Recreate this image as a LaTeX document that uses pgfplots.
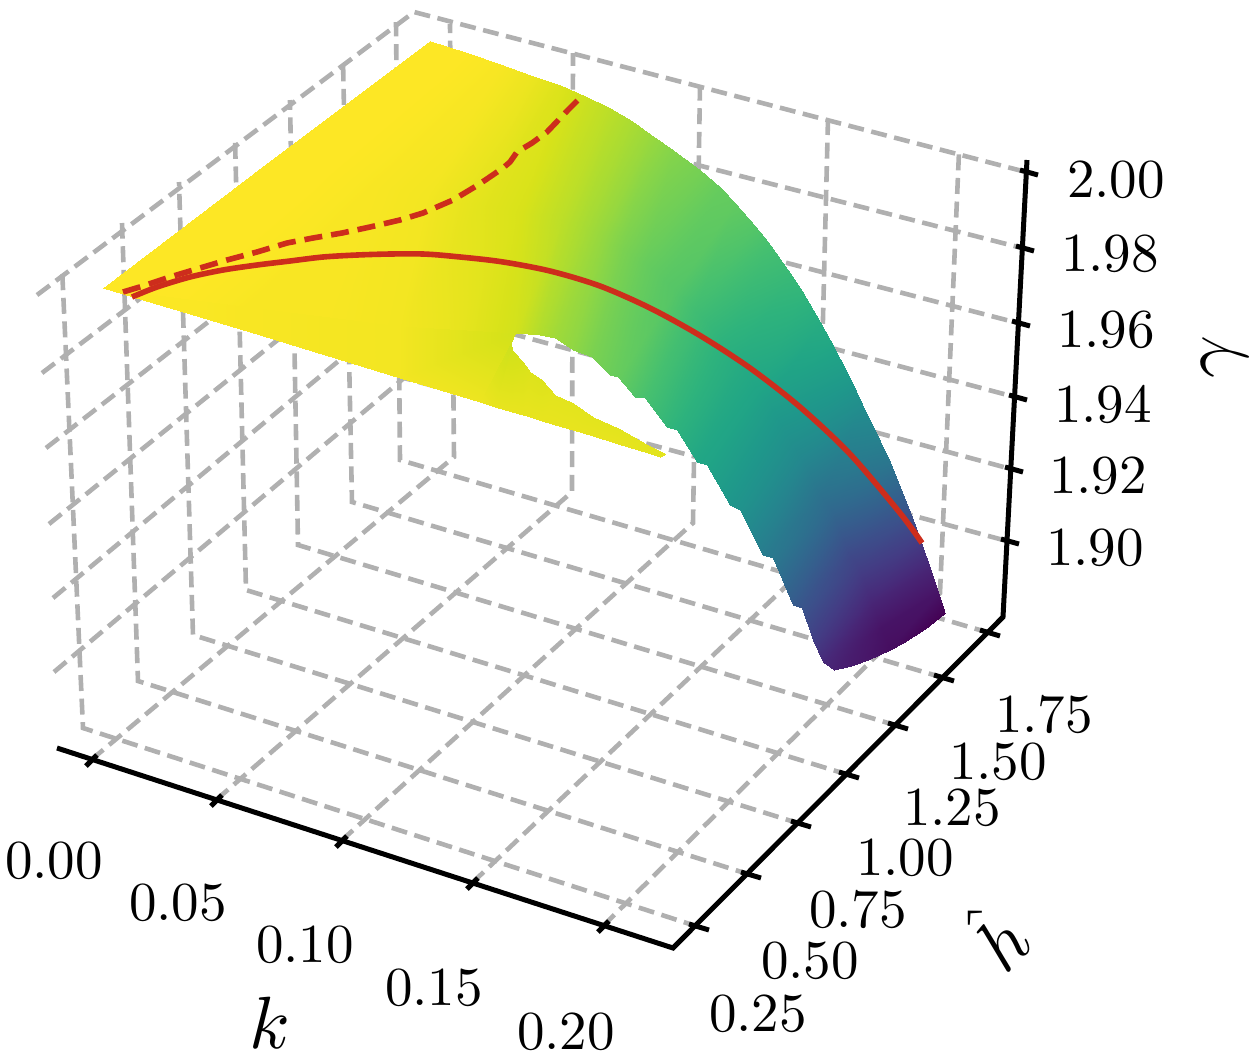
\documentclass[border=0pt]{standalone}
\usepackage{pgfplots}
\usepackage{pgfplotstable}
\pgfplotsset{compat=1.18}

% picture-plane positions of the projected surface (perspective view), g = gamma
\pgfplotstableread{
x y g
103 288 2.000
266 164 2.000
430 41 2.000
176 297.5 2.000
320 175 2.000
465 52 2.000
250 307 1.999
375 186 1.999
500 64 1.999
325 316.5 1.999
428 196 1.998
530 75 1.997
400 326 1.998
480 205 1.995
560 85 1.994
457 330 1.996
521 213 1.993
585 96 1.991
515 333 1.992
562 221 1.988
610 108 1.988
540 335 1.986
586 228 1.984
632 121 1.985
555 338 1.983
602 236 1.981
650 134 1.982
573 350 1.980
623 250 1.976
673 150 1.978
592 357 1.976
646 263 1.972
700 170 1.975
610 375 1.973
665 281 1.969
720 187 1.972
618 377 1.972
676 290 1.968
735 203 1.971
635 397 1.967
695 311 1.963
755 226 1.968
645 398 1.965
706 320 1.961
768 242 1.965
667 427 1.959
728 350 1.956
790 273 1.961
677 430 1.957
740 360 1.954
802 291 1.959
697 462 1.951
758 392 1.950
820 322 1.954
707 465 1.950
768 402 1.947
830 340 1.952
730 505 1.943
790 440 1.940
850 378 1.945
740 510 1.941
801 457 1.936
862 404 1.939
763 555 1.930
822 498 1.924
880 441 1.932
773 558 1.928
832 511 1.920
890 462 1.927
793 605 1.914
850 556 1.906
908 507 1.912
802 608 1.911
858 566 1.903
915 525 1.906
813 640 1.902
872 604 1.892
930 568 1.892
823 662 1.894
881 627 1.886
938 592 1.886
834 670 1.891
890 649 1.884
945 613 1.880
}\bandtable

% yellow part below the hole
\pgfplotstableread{
x y g
103 288 2.000
103 288 2.000
250 307 1.999
250 332 1.999
400 326 1.998
400 378 1.998
515 333 1.992
480 402 1.997
511 343 1.991
495 407 1.996
512 350 1.992
512 412 1.996
523 362 1.993
523 415 1.996
530 372 1.994
530 417 1.996
542 380 1.994
542 421 1.996
555 395 1.995
555 425 1.996
573 403 1.995
573 430 1.996
593 417 1.995
593 436 1.996
618 428 1.995
618 444 1.996
648 445 1.995
648 453 1.995
666 454 1.995
660 457 1.995
}\tailtable

% thin rim along the rounded lower end
\pgfplotstableread{
x y g
945 613 1.880
945 613 1.880
925 626 1.881
925 629 1.881
903 640.5 1.883
903 643 1.883
890 649 1.884
890 650 1.884
868 657.2 1.887
868 660 1.887
851 663.6 1.889
851 665.6 1.889
834 670 1.891
834 670 1.891
}\rimtable

\tikzset{
	lbl/.style={scale=2.75, inner sep=0pt},
	ttl/.style={scale=3.7, inner sep=0pt},
}

\begin{document}
\begin{tikzpicture}
\useasboundingbox (0,0) rectangle (629.5pt,530.5pt);
\definecolor{gridgray}{RGB}{176,176,176}
\definecolor{curvered}{RGB}{205,45,28}
\begin{axis}[
	at={(0,0)}, anchor=south west,
	scale only axis,
	width=629.5pt, height=530.5pt,
	xmin=0, xmax=1259, ymin=0, ymax=1061,
	y dir=reverse,
	view={0}{90},
	hide axis,
	clip=false,
	colormap/viridis,
	point meta min=1.88, point meta max=2,
	gl/.style={no marks, color=gridgray, line width=2.3pt, dash pattern=on 8pt off 3.8pt},
	ax/.style={no marks, color=black, line width=2.5pt, line join=miter},
	tk/.style={no marks, color=black, line width=2.5pt},
]
% k grid lines: floor, then up the back wall
\addplot3[gl] coordinates {(91,760,0)(454,457,0)(450,24,0)};
\addplot3[gl] coordinates {(216,800,0)(572,492,0)(573,53,0)};
\addplot3[gl] coordinates {(341,841,0)(693,523,0)(700,86,0)};
\addplot3[gl] coordinates {(472,883,0)(817,557,0)(828,119,0)};
\addplot3[gl] coordinates {(603,926,0)(940,593,0)(959,152,0)};
% h grid lines: floor, then up the left wall
\addplot3[gl] coordinates {(699,927,0)(83,728,0)(62,267,0)};
\addplot3[gl] coordinates {(751,875,0)(138,681,0)(122,223,0)};
\addplot3[gl] coordinates {(801,824,0)(193,635,0)(179,182,0)};
\addplot3[gl] coordinates {(849,775,0)(246,590,0)(235,138,0)};
\addplot3[gl] coordinates {(898,726,0)(298,545,0)(290,100,0)};
\addplot3[gl] coordinates {(944,678,0)(352,502,0)(343,60,0)};
\addplot3[gl] coordinates {(990,633,0)(400,460,0)(396,22,0)};
% gamma grid lines
\addplot3[gl] coordinates {(37,295,0)(414,12,0)(1026,172,0)};
\addplot3[gl] coordinates {(42,373,0)(412,92,0)(1022,248,0)};
\addplot3[gl] coordinates {(46,448,0)(410,165,0)(1018,323,0)};
\addplot3[gl] coordinates {(49,524,0)(408,235,0)(1015,397,0)};
\addplot3[gl] coordinates {(53,598,0)(406,305,0)(1011,469,0)};
\addplot3[gl] coordinates {(54,672,0)(404,378,0)(1007,541,0)};

% surface, in pieces round the hole
\addplot3[surf, shader=interp, mesh/cols=3, point meta=explicit]
	table[x=x, y=y, z expr=0, meta=g] {\bandtable};
\addplot3[surf, shader=interp, mesh/cols=2, point meta=explicit]
	table[x=x, y=y, z expr=0, meta=g] {\tailtable};
\addplot3[surf, shader=interp, mesh/cols=2, point meta=explicit]
	table[x=x, y=y, z expr=0, meta=g] {\rimtable};

% curves on the surface
\addplot3[no marks, smooth, color=curvered, line width=2.8pt] coordinates {
	(132,297,0)(157,287,0)(190,277,0)(223,270,0)(257,265,0)(290,261,0)(323,257,0)
	(357,255,0)(390,254,0)(423,254,0)(450,256,0)(500,261.5,0)(550,271,0)(600,286,0)
	(650,308,0)(700,335.5,0)(750,368,0)(800,407,0)(850,454,0)(900,513,0)(922,543,0)};
\addplot3[no marks, color=curvered, line width=2.8pt, dash pattern=on 9pt off 4.5pt] coordinates {
	(123,292,0)(143,286,0)(170,277,0)(200,268,0)(227,260,0)(257,252,0)(287,243,0)
	(313,238,0)(342,233,0)(370,227,0)(400,220,0)(423,213,0)(453,200,0)(478,185,0)
	(503,168,0)(510,162,0)(517,152,0)(532,143,0)(547,132,0)(568,110,0)(583,95,0)};

% axis lines and ticks
\addplot3[ax] coordinates {(57,748,0)(673,948,0)(1003,617,0)(1027,160,0)};
\addplot3[tk] coordinates {(86,766,0)(97,755,0)};
\addplot3[tk] coordinates {(211,806,0)(222,795,0)};
\addplot3[tk] coordinates {(336,847,0)(347,836,0)};
\addplot3[tk] coordinates {(467,889,0)(478,878,0)};
\addplot3[tk] coordinates {(598,932,0)(609,921,0)};
\addplot3[tk] coordinates {(689,924,0)(709,930,0)};
\addplot3[tk] coordinates {(741,872,0)(761,878,0)};
\addplot3[tk] coordinates {(791,821,0)(811,827,0)};
\addplot3[tk] coordinates {(839,772,0)(859,778,0)};
\addplot3[tk] coordinates {(888,723,0)(908,729,0)};
\addplot3[tk] coordinates {(934,675,0)(954,681,0)};
\addplot3[tk] coordinates {(980,630,0)(1000,636,0)};
\addplot3[tk] coordinates {(1020,170,0)(1038,175,0)};
\addplot3[tk] coordinates {(1016,246,0)(1034,251,0)};
\addplot3[tk] coordinates {(1012,321,0)(1030,326,0)};
\addplot3[tk] coordinates {(1009,395,0)(1027,400,0)};
\addplot3[tk] coordinates {(1005,467,0)(1023,472,0)};
\addplot3[tk] coordinates {(1001,539,0)(1019,544,0)};

% tick labels
\node[lbl] at (axis cs:54,861,0) {0.00};
\node[lbl] at (axis cs:178,903,0) {0.05};
\node[lbl] at (axis cs:305,945,0) {0.10};
\node[lbl] at (axis cs:434,988,0) {0.15};
\node[lbl] at (axis cs:566,1032,0) {0.20};
\node[lbl] at (axis cs:758,1014,0) {0.25};
\node[lbl] at (axis cs:810,961,0) {0.50};
\node[lbl] at (axis cs:858,910,0) {0.75};
\node[lbl] at (axis cs:905,858,0) {1.00};
\node[lbl] at (axis cs:952,808,0) {1.25};
\node[lbl] at (axis cs:998,762,0) {1.50};
\node[lbl] at (axis cs:1044,715,0) {1.75};
\node[lbl] at (axis cs:1116,180,0) {2.00};
\node[lbl] at (axis cs:1110,254,0) {1.98};
\node[lbl] at (axis cs:1106,330,0) {1.96};
\node[lbl] at (axis cs:1103,404,0) {1.94};
\node[lbl] at (axis cs:1098,476,0) {1.92};
\node[lbl] at (axis cs:1095,548,0) {1.90};
% axis titles
\node[ttl] at (axis cs:270,1023,0) {$k$};
\node[ttl, rotate=45] at (axis cs:995,935,0) {$\hat{h}$};
\node[ttl, rotate=87] at (axis cs:1225,358,0) {$\gamma$};
\end{axis}
\end{tikzpicture}
\end{document}
